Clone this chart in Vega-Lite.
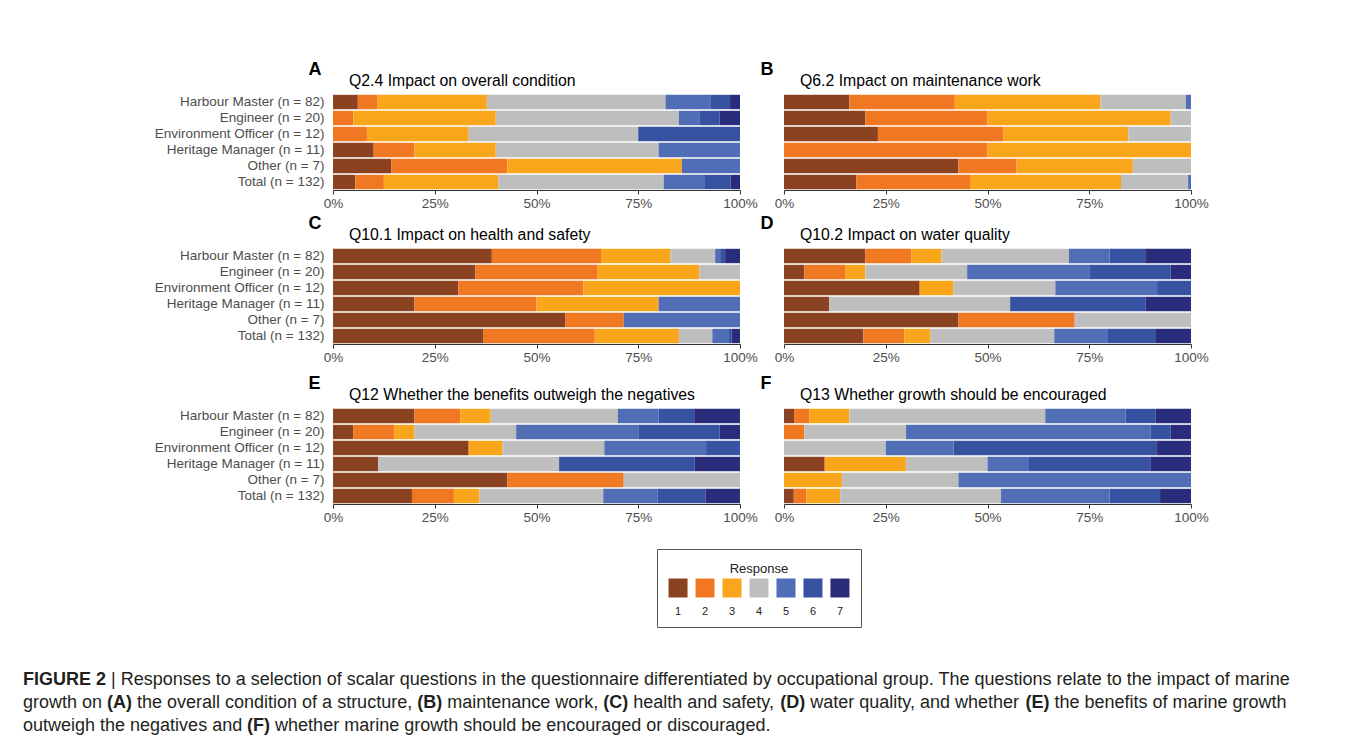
{
  "$schema": "https://vega.github.io/schema/vega-lite/v6.json",
  "padding": {"left": 23, "top": 60, "right": 0, "bottom": 0},
  "background": "white",
  "datasets": {
    "resp": [
      {"q":"A","g":"Harbour Master (n = 82)","r":1,"v":5},{"q":"A","g":"Harbour Master (n = 82)","r":2,"v":4},{"q":"A","g":"Harbour Master (n = 82)","r":3,"v":22},{"q":"A","g":"Harbour Master (n = 82)","r":4,"v":36},{"q":"A","g":"Harbour Master (n = 82)","r":5,"v":9},{"q":"A","g":"Harbour Master (n = 82)","r":6,"v":4},{"q":"A","g":"Harbour Master (n = 82)","r":7,"v":2},
      {"q":"A","g":"Engineer (n = 20)","r":2,"v":1},{"q":"A","g":"Engineer (n = 20)","r":3,"v":7},{"q":"A","g":"Engineer (n = 20)","r":4,"v":9},{"q":"A","g":"Engineer (n = 20)","r":5,"v":1},{"q":"A","g":"Engineer (n = 20)","r":6,"v":1},{"q":"A","g":"Engineer (n = 20)","r":7,"v":1},
      {"q":"A","g":"Environment Officer (n = 12)","r":2,"v":1},{"q":"A","g":"Environment Officer (n = 12)","r":3,"v":3},{"q":"A","g":"Environment Officer (n = 12)","r":4,"v":5},{"q":"A","g":"Environment Officer (n = 12)","r":6,"v":3},
      {"q":"A","g":"Heritage Manager (n = 11)","r":1,"v":1},{"q":"A","g":"Heritage Manager (n = 11)","r":2,"v":1},{"q":"A","g":"Heritage Manager (n = 11)","r":3,"v":2},{"q":"A","g":"Heritage Manager (n = 11)","r":4,"v":4},{"q":"A","g":"Heritage Manager (n = 11)","r":5,"v":2},
      {"q":"A","g":"Other (n = 7)","r":1,"v":1},{"q":"A","g":"Other (n = 7)","r":2,"v":2},{"q":"A","g":"Other (n = 7)","r":3,"v":3},{"q":"A","g":"Other (n = 7)","r":5,"v":1},
      {"q":"A","g":"Total (n = 132)","r":1,"v":7},{"q":"A","g":"Total (n = 132)","r":2,"v":9},{"q":"A","g":"Total (n = 132)","r":3,"v":36},{"q":"A","g":"Total (n = 132)","r":4,"v":52},{"q":"A","g":"Total (n = 132)","r":5,"v":13},{"q":"A","g":"Total (n = 132)","r":6,"v":8},{"q":"A","g":"Total (n = 132)","r":7,"v":3},

      {"q":"B","g":"Harbour Master (n = 82)","r":1,"v":13},{"q":"B","g":"Harbour Master (n = 82)","r":2,"v":21},{"q":"B","g":"Harbour Master (n = 82)","r":3,"v":29},{"q":"B","g":"Harbour Master (n = 82)","r":4,"v":17},{"q":"B","g":"Harbour Master (n = 82)","r":5,"v":1},
      {"q":"B","g":"Engineer (n = 20)","r":1,"v":4},{"q":"B","g":"Engineer (n = 20)","r":2,"v":6},{"q":"B","g":"Engineer (n = 20)","r":3,"v":9},{"q":"B","g":"Engineer (n = 20)","r":4,"v":1},
      {"q":"B","g":"Environment Officer (n = 12)","r":1,"v":3},{"q":"B","g":"Environment Officer (n = 12)","r":2,"v":4},{"q":"B","g":"Environment Officer (n = 12)","r":3,"v":4},{"q":"B","g":"Environment Officer (n = 12)","r":4,"v":2},
      {"q":"B","g":"Heritage Manager (n = 11)","r":2,"v":1},{"q":"B","g":"Heritage Manager (n = 11)","r":3,"v":1},
      {"q":"B","g":"Other (n = 7)","r":1,"v":3},{"q":"B","g":"Other (n = 7)","r":2,"v":1},{"q":"B","g":"Other (n = 7)","r":3,"v":2},{"q":"B","g":"Other (n = 7)","r":4,"v":1},
      {"q":"B","g":"Total (n = 132)","r":1,"v":17.8},{"q":"B","g":"Total (n = 132)","r":2,"v":27.9},{"q":"B","g":"Total (n = 132)","r":3,"v":37.1},{"q":"B","g":"Total (n = 132)","r":4,"v":16.5},{"q":"B","g":"Total (n = 132)","r":5,"v":0.7},

      {"q":"C","g":"Harbour Master (n = 82)","r":1,"v":32},{"q":"C","g":"Harbour Master (n = 82)","r":2,"v":22},{"q":"C","g":"Harbour Master (n = 82)","r":3,"v":14},{"q":"C","g":"Harbour Master (n = 82)","r":4,"v":9},{"q":"C","g":"Harbour Master (n = 82)","r":5,"v":1},{"q":"C","g":"Harbour Master (n = 82)","r":6,"v":1},{"q":"C","g":"Harbour Master (n = 82)","r":7,"v":3},
      {"q":"C","g":"Engineer (n = 20)","r":1,"v":7},{"q":"C","g":"Engineer (n = 20)","r":2,"v":6},{"q":"C","g":"Engineer (n = 20)","r":3,"v":5},{"q":"C","g":"Engineer (n = 20)","r":4,"v":2},
      {"q":"C","g":"Environment Officer (n = 12)","r":1,"v":4},{"q":"C","g":"Environment Officer (n = 12)","r":2,"v":4},{"q":"C","g":"Environment Officer (n = 12)","r":3,"v":5},
      {"q":"C","g":"Heritage Manager (n = 11)","r":1,"v":2},{"q":"C","g":"Heritage Manager (n = 11)","r":2,"v":3},{"q":"C","g":"Heritage Manager (n = 11)","r":3,"v":3},{"q":"C","g":"Heritage Manager (n = 11)","r":5,"v":2},
      {"q":"C","g":"Other (n = 7)","r":1,"v":4},{"q":"C","g":"Other (n = 7)","r":2,"v":1},{"q":"C","g":"Other (n = 7)","r":5,"v":2},
      {"q":"C","g":"Total (n = 132)","r":1,"v":37.0},{"q":"C","g":"Total (n = 132)","r":2,"v":27.3},{"q":"C","g":"Total (n = 132)","r":3,"v":20.7},{"q":"C","g":"Total (n = 132)","r":4,"v":8.2},{"q":"C","g":"Total (n = 132)","r":5,"v":3.9},{"q":"C","g":"Total (n = 132)","r":6,"v":0.8},{"q":"C","g":"Total (n = 132)","r":7,"v":2.1},

      {"q":"D","g":"Harbour Master (n = 82)","r":1,"v":16},{"q":"D","g":"Harbour Master (n = 82)","r":2,"v":9},{"q":"D","g":"Harbour Master (n = 82)","r":3,"v":6},{"q":"D","g":"Harbour Master (n = 82)","r":4,"v":25},{"q":"D","g":"Harbour Master (n = 82)","r":5,"v":8},{"q":"D","g":"Harbour Master (n = 82)","r":6,"v":7},{"q":"D","g":"Harbour Master (n = 82)","r":7,"v":9},
      {"q":"D","g":"Engineer (n = 20)","r":1,"v":1},{"q":"D","g":"Engineer (n = 20)","r":2,"v":2},{"q":"D","g":"Engineer (n = 20)","r":3,"v":1},{"q":"D","g":"Engineer (n = 20)","r":4,"v":5},{"q":"D","g":"Engineer (n = 20)","r":5,"v":6},{"q":"D","g":"Engineer (n = 20)","r":6,"v":4},{"q":"D","g":"Engineer (n = 20)","r":7,"v":1},
      {"q":"D","g":"Environment Officer (n = 12)","r":1,"v":4},{"q":"D","g":"Environment Officer (n = 12)","r":3,"v":1},{"q":"D","g":"Environment Officer (n = 12)","r":4,"v":3},{"q":"D","g":"Environment Officer (n = 12)","r":5,"v":3},{"q":"D","g":"Environment Officer (n = 12)","r":6,"v":1},
      {"q":"D","g":"Heritage Manager (n = 11)","r":1,"v":1},{"q":"D","g":"Heritage Manager (n = 11)","r":4,"v":4},{"q":"D","g":"Heritage Manager (n = 11)","r":6,"v":3},{"q":"D","g":"Heritage Manager (n = 11)","r":7,"v":1},
      {"q":"D","g":"Other (n = 7)","r":1,"v":3},{"q":"D","g":"Other (n = 7)","r":2,"v":2},{"q":"D","g":"Other (n = 7)","r":4,"v":2},
      {"q":"D","g":"Total (n = 132)","r":1,"v":19.5},{"q":"D","g":"Total (n = 132)","r":2,"v":10.1},{"q":"D","g":"Total (n = 132)","r":3,"v":6.4},{"q":"D","g":"Total (n = 132)","r":4,"v":30.4},{"q":"D","g":"Total (n = 132)","r":5,"v":13.2},{"q":"D","g":"Total (n = 132)","r":6,"v":11.8},{"q":"D","g":"Total (n = 132)","r":7,"v":8.6},

      {"q":"E","g":"Harbour Master (n = 82)","r":1,"v":16},{"q":"E","g":"Harbour Master (n = 82)","r":2,"v":9},{"q":"E","g":"Harbour Master (n = 82)","r":3,"v":6},{"q":"E","g":"Harbour Master (n = 82)","r":4,"v":25},{"q":"E","g":"Harbour Master (n = 82)","r":5,"v":8},{"q":"E","g":"Harbour Master (n = 82)","r":6,"v":7},{"q":"E","g":"Harbour Master (n = 82)","r":7,"v":9},
      {"q":"E","g":"Engineer (n = 20)","r":1,"v":1},{"q":"E","g":"Engineer (n = 20)","r":2,"v":2},{"q":"E","g":"Engineer (n = 20)","r":3,"v":1},{"q":"E","g":"Engineer (n = 20)","r":4,"v":5},{"q":"E","g":"Engineer (n = 20)","r":5,"v":6},{"q":"E","g":"Engineer (n = 20)","r":6,"v":4},{"q":"E","g":"Engineer (n = 20)","r":7,"v":1},
      {"q":"E","g":"Environment Officer (n = 12)","r":1,"v":4},{"q":"E","g":"Environment Officer (n = 12)","r":3,"v":1},{"q":"E","g":"Environment Officer (n = 12)","r":4,"v":3},{"q":"E","g":"Environment Officer (n = 12)","r":5,"v":3},{"q":"E","g":"Environment Officer (n = 12)","r":6,"v":1},
      {"q":"E","g":"Heritage Manager (n = 11)","r":1,"v":1},{"q":"E","g":"Heritage Manager (n = 11)","r":4,"v":4},{"q":"E","g":"Heritage Manager (n = 11)","r":6,"v":3},{"q":"E","g":"Heritage Manager (n = 11)","r":7,"v":1},
      {"q":"E","g":"Other (n = 7)","r":1,"v":3},{"q":"E","g":"Other (n = 7)","r":2,"v":2},{"q":"E","g":"Other (n = 7)","r":4,"v":2},
      {"q":"E","g":"Total (n = 132)","r":1,"v":19.4},{"q":"E","g":"Total (n = 132)","r":2,"v":10.3},{"q":"E","g":"Total (n = 132)","r":3,"v":6.3},{"q":"E","g":"Total (n = 132)","r":4,"v":30.4},{"q":"E","g":"Total (n = 132)","r":5,"v":13.4},{"q":"E","g":"Total (n = 132)","r":6,"v":11.7},{"q":"E","g":"Total (n = 132)","r":7,"v":8.5},

      {"q":"F","g":"Harbour Master (n = 82)","r":1,"v":2},{"q":"F","g":"Harbour Master (n = 82)","r":2,"v":3},{"q":"F","g":"Harbour Master (n = 82)","r":3,"v":8},{"q":"F","g":"Harbour Master (n = 82)","r":4,"v":39},{"q":"F","g":"Harbour Master (n = 82)","r":5,"v":16},{"q":"F","g":"Harbour Master (n = 82)","r":6,"v":6},{"q":"F","g":"Harbour Master (n = 82)","r":7,"v":7},
      {"q":"F","g":"Engineer (n = 20)","r":2,"v":1},{"q":"F","g":"Engineer (n = 20)","r":4,"v":5},{"q":"F","g":"Engineer (n = 20)","r":5,"v":12},{"q":"F","g":"Engineer (n = 20)","r":6,"v":1},{"q":"F","g":"Engineer (n = 20)","r":7,"v":1},
      {"q":"F","g":"Environment Officer (n = 12)","r":4,"v":3},{"q":"F","g":"Environment Officer (n = 12)","r":5,"v":2},{"q":"F","g":"Environment Officer (n = 12)","r":6,"v":6},{"q":"F","g":"Environment Officer (n = 12)","r":7,"v":1},
      {"q":"F","g":"Heritage Manager (n = 11)","r":1,"v":1},{"q":"F","g":"Heritage Manager (n = 11)","r":3,"v":2},{"q":"F","g":"Heritage Manager (n = 11)","r":4,"v":2},{"q":"F","g":"Heritage Manager (n = 11)","r":5,"v":1},{"q":"F","g":"Heritage Manager (n = 11)","r":6,"v":3},{"q":"F","g":"Heritage Manager (n = 11)","r":7,"v":1},
      {"q":"F","g":"Other (n = 7)","r":3,"v":1},{"q":"F","g":"Other (n = 7)","r":4,"v":2},{"q":"F","g":"Other (n = 7)","r":5,"v":4},
      {"q":"F","g":"Total (n = 132)","r":1,"v":2.4},{"q":"F","g":"Total (n = 132)","r":2,"v":3.1},{"q":"F","g":"Total (n = 132)","r":3,"v":8.3},{"q":"F","g":"Total (n = 132)","r":4,"v":39.5},{"q":"F","g":"Total (n = 132)","r":5,"v":26.7},{"q":"F","g":"Total (n = 132)","r":6,"v":12.4},{"q":"F","g":"Total (n = 132)","r":7,"v":7.6}
    ],
    "caption": [
      {"line": 1, "seg": "s1", "text": "FIGURE 2"},
      {"line": 1, "seg": "s2", "text": "| Responses to a selection of scalar questions in the questionnaire differentiated by occupational group. The questions relate to the impact of marine"},
      {"line": 2, "seg": "s3", "text": "growth on"},
      {"line": 2, "seg": "s4", "text": "(A)"},
      {"line": 2, "seg": "s5", "text": "the overall condition of a structure,"},
      {"line": 2, "seg": "s6", "text": "(B)"},
      {"line": 2, "seg": "s7", "text": "maintenance work,"},
      {"line": 2, "seg": "s8", "text": "(C)"},
      {"line": 2, "seg": "s9", "text": "health and safety,"},
      {"line": 2, "seg": "s10", "text": "(D)"},
      {"line": 2, "seg": "s11", "text": "water quality, and whether"},
      {"line": 2, "seg": "s12", "text": "(E)"},
      {"line": 2, "seg": "s13", "text": "the benefits of marine growth"},
      {"line": 3, "seg": "s14", "text": "outweigh the negatives and"},
      {"line": 3, "seg": "s15", "text": "(F)"},
      {"line": 3, "seg": "s16", "text": "whether marine growth should be encouraged or discouraged."}
    ]
  },
  "vconcat": [
    {
      "hconcat": [
        {"width": 131, "height": 10, "data": {"values": [{"a": 1}]}, "mark": {"type": "text"}, "encoding": {}},
        {
          "vconcat": [
            {
              "vconcat": [
                {
                  "vconcat": [
                    {
                      "hconcat": [
                        {
                          "width": 407, "height": 96, "data": {"name": "resp"},
                          "transform": [{"filter": "datum.q == 'A'"}],
                          "title": "Q2.4 Impact on overall condition",
                          "mark": {"type": "bar"},
                          "encoding": {
                            "y": {"field": "g", "type": "nominal", "sort": null, "scale": {"domain": ["Harbour Master (n = 82)","Engineer (n = 20)","Environment Officer (n = 12)","Heritage Manager (n = 11)","Other (n = 7)","Total (n = 132)"], "paddingInner": 0.1, "paddingOuter": 0.05}, "axis": {"title": "A", "titleX": -25}},
                            "x": {"field": "v", "type": "quantitative", "stack": "normalize", "scale": {"domain": [0, 1]}, "axis": {"values": [0, 0.25, 0.5, 0.75, 1], "format": "%", "labelFlush": false}},
                            "color": {"field": "r", "type": "ordinal", "scale": {"domain": [1,2,3,4,5,6,7], "range": ["#8B4220","#F07822","#F9A61C","#BEBEBE","#506EB5","#3852A2","#292C7A"]}, "legend": null},
                            "order": {"field": "r", "type": "quantitative"}
                          }
                        },
                        {
                          "width": 407, "height": 96, "data": {"name": "resp"},
                          "transform": [{"filter": "datum.q == 'B'"}],
                          "title": "Q6.2 Impact on maintenance work",
                          "mark": {"type": "bar"},
                          "encoding": {
                            "y": {"field": "g", "type": "nominal", "sort": null, "scale": {"domain": ["Harbour Master (n = 82)","Engineer (n = 20)","Environment Officer (n = 12)","Heritage Manager (n = 11)","Other (n = 7)","Total (n = 132)"], "paddingInner": 0.1, "paddingOuter": 0.05}, "axis": {"title": "B", "titleX": -24, "labels": false}},
                            "x": {"field": "v", "type": "quantitative", "stack": "normalize", "scale": {"domain": [0, 1]}, "axis": {"values": [0, 0.25, 0.5, 0.75, 1], "format": "%", "labelFlush": false}},
                            "color": {"field": "r", "type": "ordinal", "scale": {"domain": [1,2,3,4,5,6,7], "range": ["#8B4220","#F07822","#F9A61C","#BEBEBE","#506EB5","#3852A2","#292C7A"]}, "legend": null},
                            "order": {"field": "r", "type": "quantitative"}
                          }
                        }
                      ],
                      "spacing": 2
                    },
                    {
                      "hconcat": [
                        {
                          "width": 407, "height": 96, "data": {"name": "resp"},
                          "transform": [{"filter": "datum.q == 'C'"}],
                          "title": "Q10.1 Impact on health and safety",
                          "mark": {"type": "bar"},
                          "encoding": {
                            "y": {"field": "g", "type": "nominal", "sort": null, "scale": {"domain": ["Harbour Master (n = 82)","Engineer (n = 20)","Environment Officer (n = 12)","Heritage Manager (n = 11)","Other (n = 7)","Total (n = 132)"], "paddingInner": 0.1, "paddingOuter": 0.05}, "axis": {"title": "C", "titleX": -25}},
                            "x": {"field": "v", "type": "quantitative", "stack": "normalize", "scale": {"domain": [0, 1]}, "axis": {"values": [0, 0.25, 0.5, 0.75, 1], "format": "%", "labelFlush": false}},
                            "color": {"field": "r", "type": "ordinal", "scale": {"domain": [1,2,3,4,5,6,7], "range": ["#8B4220","#F07822","#F9A61C","#BEBEBE","#506EB5","#3852A2","#292C7A"]}, "legend": null},
                            "order": {"field": "r", "type": "quantitative"}
                          }
                        },
                        {
                          "width": 407, "height": 96, "data": {"name": "resp"},
                          "transform": [{"filter": "datum.q == 'D'"}],
                          "title": "Q10.2 Impact on water quality",
                          "mark": {"type": "bar"},
                          "encoding": {
                            "y": {"field": "g", "type": "nominal", "sort": null, "scale": {"domain": ["Harbour Master (n = 82)","Engineer (n = 20)","Environment Officer (n = 12)","Heritage Manager (n = 11)","Other (n = 7)","Total (n = 132)"], "paddingInner": 0.1, "paddingOuter": 0.05}, "axis": {"title": "D", "titleX": -24, "labels": false}},
                            "x": {"field": "v", "type": "quantitative", "stack": "normalize", "scale": {"domain": [0, 1]}, "axis": {"values": [0, 0.25, 0.5, 0.75, 1], "format": "%", "labelFlush": false}},
                            "color": {"field": "r", "type": "ordinal", "scale": {"domain": [1,2,3,4,5,6,7], "range": ["#8B4220","#F07822","#F9A61C","#BEBEBE","#506EB5","#3852A2","#292C7A"]}, "legend": null},
                            "order": {"field": "r", "type": "quantitative"}
                          }
                        }
                      ],
                      "spacing": 2
                    }
                  ],
                  "spacing": 4
                },
                {
                  "hconcat": [
                    {
                      "width": 407, "height": 96, "data": {"name": "resp"},
                      "transform": [{"filter": "datum.q == 'E'"}],
                      "title": "Q12 Whether the benefits outweigh the negatives",
                      "mark": {"type": "bar"},
                      "encoding": {
                        "y": {"field": "g", "type": "nominal", "sort": null, "scale": {"domain": ["Harbour Master (n = 82)","Engineer (n = 20)","Environment Officer (n = 12)","Heritage Manager (n = 11)","Other (n = 7)","Total (n = 132)"], "paddingInner": 0.1, "paddingOuter": 0.05}, "axis": {"title": "E", "titleX": -25}},
                        "x": {"field": "v", "type": "quantitative", "stack": "normalize", "scale": {"domain": [0, 1]}, "axis": {"values": [0, 0.25, 0.5, 0.75, 1], "format": "%", "labelFlush": false}},
                        "color": {"field": "r", "type": "ordinal", "scale": {"domain": [1,2,3,4,5,6,7], "range": ["#8B4220","#F07822","#F9A61C","#BEBEBE","#506EB5","#3852A2","#292C7A"]}, "legend": null},
                        "order": {"field": "r", "type": "quantitative"}
                      }
                    },
                    {
                      "width": 407, "height": 96, "data": {"name": "resp"},
                      "transform": [{"filter": "datum.q == 'F'"}],
                      "title": "Q13 Whether growth should be encouraged",
                      "mark": {"type": "bar"},
                      "encoding": {
                        "y": {"field": "g", "type": "nominal", "sort": null, "scale": {"domain": ["Harbour Master (n = 82)","Engineer (n = 20)","Environment Officer (n = 12)","Heritage Manager (n = 11)","Other (n = 7)","Total (n = 132)"], "paddingInner": 0.1, "paddingOuter": 0.05}, "axis": {"title": "F", "titleX": -24, "labels": false}},
                        "x": {"field": "v", "type": "quantitative", "stack": "normalize", "scale": {"domain": [0, 1]}, "axis": {"values": [0, 0.25, 0.5, 0.75, 1], "format": "%", "labelFlush": false}},
                        "color": {"field": "r", "type": "ordinal", "scale": {"domain": [1,2,3,4,5,6,7], "range": ["#8B4220","#F07822","#F9A61C","#BEBEBE","#506EB5","#3852A2","#292C7A"]}, "legend": null},
                        "order": {"field": "r", "type": "quantitative"}
                      }
                    }
                  ],
                  "spacing": 2
                }
              ],
              "spacing": 10
            },
            {
              "hconcat": [
                {"width": 323, "height": 10, "data": {"values": [{"a": 1}]}, "mark": {"type": "text"}, "encoding": {}},
                {
                  "width": 204, "height": 78,
                  "view": {"stroke": "#555555", "strokeWidth": 1},
                  "data": {"values": [{"r":1},{"r":2},{"r":3},{"r":4},{"r":5},{"r":6},{"r":7}]},
                  "layer": [
                    {
                      "mark": {"type": "square", "size": 361, "filled": true, "opacity": 1},
                      "encoding": {
                        "x": {"field": "r", "type": "ordinal", "scale": {"type": "point", "domain": [1,2,3,4,5,6,7], "padding": 0.78}, "axis": null},
                        "y": {"datum": "swatch", "type": "nominal", "scale": {"type": "point", "domain": ["title","swatch","label"], "padding": 1}, "axis": null},
                        "color": {"field": "r", "type": "ordinal", "scale": {"domain": [1,2,3,4,5,6,7], "range": ["#8B4220","#F07822","#F9A61C","#BEBEBE","#506EB5","#3852A2","#292C7A"]}, "legend": null}
                      }
                    },
                    {
                      "mark": {"type": "text", "fontSize": 11, "dy": 4, "fill": "#222222"},
                      "encoding": {
                        "x": {"field": "r", "type": "ordinal"},
                        "y": {"datum": "label", "type": "nominal"},
                        "text": {"field": "r"}
                      }
                    },
                    {
                      "data": {"values": [{"r": 4, "t": "Response"}]},
                      "mark": {"type": "text", "fontSize": 13, "fill": "#222222"},
                      "encoding": {
                        "x": {"field": "r", "type": "ordinal"},
                        "y": {"datum": "title", "type": "nominal"},
                        "text": {"field": "t"}
                      }
                    }
                  ]
                }
              ],
              "spacing": 0
            }
          ],
          "spacing": 24
        }
      ],
      "spacing": 0
    },
    {
      "width": 1310, "height": 70,
      "data": {"name": "caption"},
      "encoding": {
        "x": {"datum": 0, "type": "quantitative", "scale": {"domain": [0, 1]}, "axis": null},
        "y": {"field": "line", "type": "ordinal", "scale": {"type": "point", "domain": [1, 2, 3], "padding": 0.5}, "axis": null},
        "text": {"field": "text"}
      },
      "layer": [
        {"transform": [{"filter": "datum.seg == 's1'"}], "mark": {"type": "text", "align": "left", "baseline": "middle", "fontSize": 18, "fontWeight": "bold", "fill": "#231F20"}},
        {"transform": [{"filter": "datum.seg == 's2'"}], "mark": {"type": "text", "align": "left", "baseline": "middle", "fontSize": 18, "dx": 88, "fill": "#231F20"}},
        {"transform": [{"filter": "datum.seg == 's3'"}], "mark": {"type": "text", "align": "left", "baseline": "middle", "fontSize": 18, "fill": "#231F20"}},
        {"transform": [{"filter": "datum.seg == 's4'"}], "mark": {"type": "text", "align": "left", "baseline": "middle", "fontSize": 18, "fontWeight": "bold", "dx": 84, "fill": "#231F20"}},
        {"transform": [{"filter": "datum.seg == 's5'"}], "mark": {"type": "text", "align": "left", "baseline": "middle", "fontSize": 18, "dx": 114, "fill": "#231F20"}},
        {"transform": [{"filter": "datum.seg == 's6'"}], "mark": {"type": "text", "align": "left", "baseline": "middle", "fontSize": 18, "fontWeight": "bold", "dx": 394.2, "fill": "#231F20"}},
        {"transform": [{"filter": "datum.seg == 's7'"}], "mark": {"type": "text", "align": "left", "baseline": "middle", "fontSize": 18, "dx": 424.2, "fill": "#231F20"}},
        {"transform": [{"filter": "datum.seg == 's8'"}], "mark": {"type": "text", "align": "left", "baseline": "middle", "fontSize": 18, "fontWeight": "bold", "dx": 580.2, "fill": "#231F20"}},
        {"transform": [{"filter": "datum.seg == 's9'"}], "mark": {"type": "text", "align": "left", "baseline": "middle", "fontSize": 18, "dx": 610.2, "fill": "#231F20"}},
        {"transform": [{"filter": "datum.seg == 's10'"}], "mark": {"type": "text", "align": "left", "baseline": "middle", "fontSize": 18, "fontWeight": "bold", "dx": 757.3, "fill": "#231F20"}},
        {"transform": [{"filter": "datum.seg == 's11'"}], "mark": {"type": "text", "align": "left", "baseline": "middle", "fontSize": 18, "dx": 787.3, "fill": "#231F20"}},
        {"transform": [{"filter": "datum.seg == 's12'"}], "mark": {"type": "text", "align": "left", "baseline": "middle", "fontSize": 18, "fontWeight": "bold", "dx": 1002.4, "fill": "#231F20"}},
        {"transform": [{"filter": "datum.seg == 's13'"}], "mark": {"type": "text", "align": "left", "baseline": "middle", "fontSize": 18, "dx": 1031.4, "fill": "#231F20"}},
        {"transform": [{"filter": "datum.seg == 's14'"}], "mark": {"type": "text", "align": "left", "baseline": "middle", "fontSize": 18, "fill": "#231F20"}},
        {"transform": [{"filter": "datum.seg == 's15'"}], "mark": {"type": "text", "align": "left", "baseline": "middle", "fontSize": 18, "fontWeight": "bold", "dx": 224.1, "fill": "#231F20"}},
        {"transform": [{"filter": "datum.seg == 's16'"}], "mark": {"type": "text", "align": "left", "baseline": "middle", "fontSize": 18, "dx": 252.1, "fill": "#231F20"}}
      ]
    }
  ],
  "spacing": 40,
  "config": {
    "font": "Liberation Sans",
    "view": {"stroke": null},
    "axisX": {"domainColor": "#333333", "tickColor": "#333333", "tickSize": 4, "labelFontSize": 13.5, "labelColor": "#4D4D4D", "labelPadding": 2, "grid": false, "title": null},
    "axisY": {"domain": false, "ticks": false, "grid": false, "labelFontSize": 13.5, "labelColor": "#4D4D4D", "labelPadding": 9, "titleAngle": 0, "titleAlign": "left", "titleBaseline": "alphabetic", "titleFontSize": 18, "titleFontWeight": "bold", "titleColor": "#000000", "titleY": -20},
    "title": {"anchor": "start", "frame": "group", "dx": 16, "offset": -30, "fontSize": 15.8, "fontWeight": "normal", "color": "#000000", "baseline": "alphabetic"}
  }
}
